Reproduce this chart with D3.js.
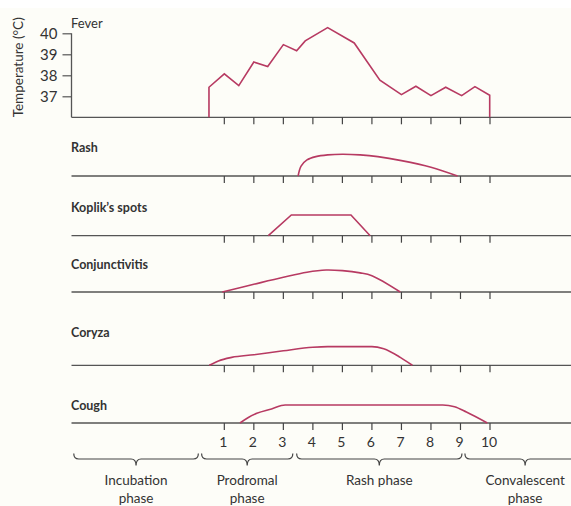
<!DOCTYPE html>
<html>
<head>
<meta charset="utf-8">
<script src="https://cdn.jsdelivr.net/npm/d3@7/dist/d3.min.js"></script>
<style>
  html, body { margin: 0; padding: 0; background: #ffffff; }
  svg { display: block; }
  text { font-family: Lato, "Open Sans", sans-serif; fill: #333; }
</style>
</head>
<body>
<svg id="chart" width="571" height="506"></svg>
<script>
// ---------- data ----------
const days = [1, 2, 3, 4, 5, 6, 7, 8, 9, 10];
const tempTicks = [37, 38, 39, 40];

const feverDays  = [0.48, 0.48, 1.0, 1.49, 2.0, 2.47, 3.0, 3.45, 3.74, 4.5, 5.4, 6.27, 7.0, 7.49, 8.0, 8.5, 9.04, 9.49, 9.99, 9.99];
const feverTemps = [36, 37.43, 38.07, 37.51, 38.63, 38.42, 39.46, 39.17, 39.64, 40.27, 39.54, 37.77, 37.08, 37.48, 37.03, 37.43, 37.03, 37.46, 37.05, 36];

const symptomNames = ["Rash", "Koplik\u2019s spots", "Conjunctivitis", "Coryza", "Cough"];

const rashDays    = [3.5, 3.6, 3.8, 4.1, 4.5, 5.0, 5.6, 6.2, 7.0, 8.0, 8.9];
const rashLevels  = [0, 0.45, 0.73, 0.88, 0.96, 0.99, 0.96, 0.88, 0.70, 0.40, 0];

const koplikDays   = [2.49, 3.27, 5.29, 5.94];
const koplikLevels = [0, 0.94, 0.94, 0];

const conjDays   = [0.93, 2.0, 3.0, 3.8, 4.45, 5.0, 5.6, 6.0, 6.96];
const conjLevels = [0, 0.35, 0.67, 0.9, 1.0, 0.97, 0.87, 0.74, 0];

const coryzaDays   = [0.49, 0.8, 1.25, 2.0, 3.0, 4.0, 4.5, 6.0, 6.4, 6.96, 7.37];
const coryzaLevels = [0, 0.2, 0.36, 0.48, 0.66, 0.82, 0.85, 0.85, 0.75, 0.36, 0];

const coughDays   = [1.53, 1.8, 2.1, 2.6, 3.06, 8.4, 8.8, 9.2, 9.91];
const coughLevels = [0, 0.24, 0.44, 0.64, 0.82, 0.82, 0.74, 0.5, 0];

const phaseNames  = [["Incubation", "phase"], ["Prodromal", "phase"], ["Rash phase"], ["Convalescent", "phase"]];
const phaseStarts = [-4.1, 0.23, 3.45, 9.15];
const phaseEnds   = [0.12, 3.32, 9.05, 13.23];

// ---------- layout ----------
const svg = d3.select("#chart");
svg.append("rect").attr("x", 0).attr("y", 8).attr("width", 571).attr("height", 498).attr("fill", "#fdfdf8");

const x = d3.scaleLinear().domain([0, 10]).range([194.8, 490]);
const leftX = 71.5, rightX = 571;
const yT = d3.scaleLinear().domain([36, 40]).range([117.3, 33.3]);
const lvl = d3.scaleLinear().domain([0, 1]).range([0, 22]);

const axisColor = "#555";
const curveColor = "#b73a62";

function baseline(y) {
  svg.append("line").attr("x1", leftX).attr("x2", rightX).attr("y1", y).attr("y2", y)
    .attr("stroke", axisColor).attr("stroke-width", 1.3);
  svg.append("g").selectAll("line").data(days).join("line")
    .attr("x1", d => x(d)).attr("x2", d => x(d))
    .attr("y1", y).attr("y2", y + 7)
    .attr("stroke", "#444").attr("stroke-width", 1.2);
}

// ---------- fever panel ----------
const yAxis = d3.axisLeft(yT).tickValues(tempTicks).tickFormat(d3.format("d"))
  .tickSize(9).tickPadding(5).tickSizeOuter(0);
const gy = svg.append("g").attr("transform", `translate(${leftX},0)`).call(yAxis);
gy.select(".domain").attr("d", `M0,${yT(40)}V${yT(36)}`).attr("stroke", axisColor).attr("stroke-width", 1.3);
gy.selectAll(".tick line").attr("stroke", axisColor).attr("stroke-width", 1.2);
gy.selectAll(".tick text").style("font-family", "Lato, sans-serif").style("font-size", "15px").attr("fill", "#333");

baseline(yT(36));

svg.append("text").attr("x", 71).attr("y", 28).style("font-size", "13px").text("Fever");
svg.append("text")
  .attr("transform", `translate(23,${(yT(40) + yT(36)) / 2 - 8}) rotate(-90)`)
  .attr("text-anchor", "middle").style("font-size", "13.5px").text("Temperature (\u00b0C)");

const feverLine = d3.line().x((d, i) => x(feverDays[i])).y(d => yT(d));
svg.append("path").datum(feverTemps).attr("d", feverLine)
  .attr("fill", "none").attr("stroke", curveColor).attr("stroke-width", 1.6).attr("stroke-linejoin", "miter");

// ---------- symptom rows ----------
const rowBase = [176, 235.7, 292, 365.3, 423];
const rowLabelY = [151.5, 211.5, 269, 337.3, 409.5];
const rowData = [
  [rashDays, rashLevels, d3.curveCatmullRom.alpha(0.5)],
  [koplikDays, koplikLevels, d3.curveLinear],
  [conjDays, conjLevels, d3.curveCatmullRom.alpha(0.5)],
  [coryzaDays, coryzaLevels, d3.curveMonotoneX],
  [coughDays, coughLevels, d3.curveMonotoneX]
];

symptomNames.forEach((name, r) => {
  const yb = rowBase[r];
  baseline(yb);
  svg.append("text").attr("x", 71).attr("y", rowLabelY[r])
    .style("font-size", "12.5px").style("font-weight", "bold").attr("fill", "#2a2a2a").text(name);
  const [ds, ls, cv] = rowData[r];
  const line = d3.line().x((d, i) => x(ds[i])).y(d => yb - lvl(d)).curve(cv);
  svg.append("path").datum(ls).attr("d", line)
    .attr("fill", "none").attr("stroke", curveColor).attr("stroke-width", 1.6);
});

// ---------- day labels ----------
svg.append("g").selectAll("text").data(days).join("text")
  .attr("x", d => x(d) - 1).attr("y", 446.5)
  .attr("text-anchor", "middle").style("font-size", "14px").text(d => d);

// ---------- phase braces ----------
function bracePath(x0, x1, yTop, yMid, yTip) {
  const xm = (x0 + x1) / 2, r = 5;
  return `M${x0},${yTop} Q${x0},${yMid} ${x0 + r},${yMid} L${xm - r},${yMid} Q${xm},${yMid} ${xm},${yTip} ` +
         `Q${xm},${yMid} ${xm + r},${yMid} L${x1 - r},${yMid} Q${x1},${yMid} ${x1},${yTop}`;
}
phaseNames.forEach((lines, i) => {
  const x0 = x(phaseStarts[i]), x1 = x(phaseEnds[i]);
  svg.append("path").attr("d", bracePath(x0, x1, 453.5, 459, 465.5))
    .attr("fill", "none").attr("stroke", "#444").attr("stroke-width", 1.2);
  const t = svg.append("text").attr("text-anchor", "middle").style("font-size", "13.5px");
  lines.forEach((s, j) => {
    t.append("tspan").attr("x", (x0 + x1) / 2).attr("y", 485 + j * 17.5).text(s);
  });
});
</script>
</body>
</html>
